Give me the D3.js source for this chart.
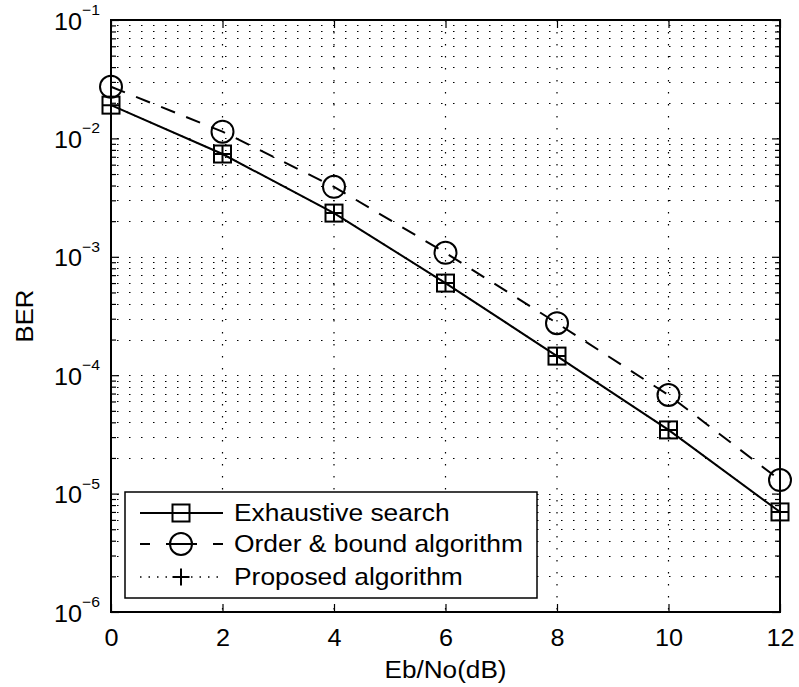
<!DOCTYPE html>
<html>
<head>
<meta charset="utf-8">
<script src="https://cdn.jsdelivr.net/npm/d3@7"></script>
<style>
  body { margin: 0; background: #fff; }
  text { font-family: "Liberation Sans", Arial, Helvetica, sans-serif; fill: #000; }
</style>
</head>
<body>
<svg id="chart" width="799" height="687"></svg>
<script>
// data ------------------------------------------------------------
var snr = [0, 2, 4, 6, 8, 10, 12];
var berExhaustive = [0.0191, 0.00738, 0.00234, 0.00060, 0.000145, 0.0000345, 0.0000070];
var berOrderBound = [0.0273, 0.0114, 0.0039, 0.00108, 0.000275, 0.000068, 0.0000130];
var berProposed = [0.0191, 0.00738, 0.00234, 0.00060, 0.000145, 0.0000345, 0.0000070];
var xTicks = [0, 2, 4, 6, 8, 10, 12];
var yDecades = [-6, -5, -4, -3, -2, -1];
var seriesNames = ["Exhaustive search", "Order & bound algorithm", "Proposed algorithm"];

var svg = d3.select("#chart");
var m = { left: 111, top: 20, right: 780, bottom: 612 };

var x = d3.scaleLinear().domain([0, 12]).range([m.left, m.right]);
var y = d3.scaleLog().domain([1e-6, 1e-1]).range([m.bottom, m.top]);

// minor y values (2..9 of each decade)
var yMinor = [];
yDecades.slice(0, -1).forEach(function (d) {
  for (var k = 2; k <= 9; k++) yMinor.push(k * Math.pow(10, d));
});
var yMajor = yDecades.map(function (d) { return Math.pow(10, d); });

// text helper, matlab's helvetica is a bit wider than liberation
function txt(g, tx, ty, s, size, anchor, sx, rot) {
  return g.append("text")
    .attr("transform", "translate(" + tx + "," + ty + ")" + (rot ? " rotate(" + rot + ")" : "") + " scale(" + sx + ",1)")
    .attr("text-anchor", anchor).attr("font-size", size).text(s);
}

// grid ------------------------------------------------------------
var grid = svg.append("g").attr("stroke", "#000").attr("stroke-width", 1.2)
  .attr("stroke-dasharray", "1.5,10.5");
grid.selectAll(".gx").data(xTicks.slice(1, -1)).enter().append("line")
  .attr("x1", function (d) { return x(d); }).attr("x2", function (d) { return x(d); })
  .attr("y1", m.top).attr("y2", m.bottom);
grid.selectAll(".gy").data(yMinor.concat(yMajor.slice(1, -1))).enter().append("line")
  .attr("y1", function (d) { return Math.round(y(d)) + 0.5; })
  .attr("y2", function (d) { return Math.round(y(d)) + 0.5; })
  .attr("x1", m.left + 6).attr("x2", m.right);

// axes (ticks inside, like matlab) --------------------------------
function styleAxis(g) {
  g.select(".domain").remove();
  g.selectAll("line").attr("stroke", "#000").attr("stroke-width", 1.2);
}
svg.append("g").attr("transform", "translate(0," + m.bottom + ")")
  .call(d3.axisBottom(x).tickValues(xTicks).tickSize(-8).tickFormat(d3.format("d")))
  .call(styleAxis)
  .selectAll("text").attr("font-size", 24).attr("y", 34).attr("dy", 0)
  .attr("transform", "scale(1.05,1)")
  .style("font-family", "Liberation Sans, Arial, sans-serif");
svg.append("g").attr("transform", "translate(0," + m.top + ")")
  .call(d3.axisTop(x).tickValues(xTicks).tickSize(-8).tickFormat(""))
  .call(styleAxis);
svg.append("g").attr("transform", "translate(" + m.left + ",0)")
  .call(d3.axisLeft(y).tickValues(yMajor).tickSize(-8).tickFormat(""))
  .call(styleAxis);
svg.append("g").attr("transform", "translate(" + m.left + ",0)")
  .call(d3.axisLeft(y).tickValues(yMinor).tickSize(-5).tickFormat(""))
  .call(styleAxis);
svg.append("g").attr("transform", "translate(" + m.right + ",0)")
  .call(d3.axisRight(y).tickValues(yMajor).tickSize(-8).tickFormat(""))
  .call(styleAxis);
svg.append("g").attr("transform", "translate(" + m.right + ",0)")
  .call(d3.axisRight(y).tickValues(yMinor).tickSize(-5).tickFormat(""))
  .call(styleAxis);

// y tick labels 10^n
var yl = svg.append("g");
yDecades.forEach(function (d) {
  var ty = y(Math.pow(10, d));
  txt(yl, 82, ty + 9.5, "10", 24, "end", 1.05);
  txt(yl, 82, ty - 5, "\u2212" + (-d), 15, "start", 1.05);
});

// axis titles
txt(svg, (m.left + m.right) / 2, 678, "Eb/No(dB)", 24, "middle", 1.09);
txt(svg, 33, (m.top + m.bottom) / 2, "BER", 24, "middle", 1.07, -90);

// frame
svg.append("rect").attr("x", m.left).attr("y", m.top)
  .attr("width", m.right - m.left).attr("height", m.bottom - m.top)
  .attr("fill", "none").attr("stroke", "#000").attr("stroke-width", 2);

// series -----------------------------------------------------------
var line = d3.line().x(function (d) { return x(d[0]); }).y(function (d) { return y(d[1]); });
function pts(vals) { return snr.map(function (s, i) { return [s, vals[i]]; }); }

var plot = svg.append("g");
plot.append("path").datum(pts(berExhaustive)).attr("d", line)
  .attr("fill", "none").attr("stroke", "#000").attr("stroke-width", 2);
plot.append("path").datum(pts(berOrderBound)).attr("d", line)
  .attr("fill", "none").attr("stroke", "#000").attr("stroke-width", 2)
  .attr("stroke-dasharray", "15,12");
plot.append("path").datum(pts(berProposed)).attr("d", line)
  .attr("fill", "none").attr("stroke", "#000").attr("stroke-width", 1.5)
  .attr("stroke-dasharray", "1.5,7");

function square(g, cx, cy) {
  g.append("rect").attr("x", cx - 8.5).attr("y", cy - 8.5).attr("width", 17).attr("height", 17)
    .attr("fill", "none").attr("stroke", "#000").attr("stroke-width", 2);
}
function circle(g, cx, cy) {
  g.append("circle").attr("cx", cx).attr("cy", cy).attr("r", 11)
    .attr("fill", "none").attr("stroke", "#000").attr("stroke-width", 2);
}
function plus(g, cx, cy) {
  g.append("path").attr("d", "M" + (cx - 8.5) + "," + cy + "H" + (cx + 8.5) + "M" + cx + "," + (cy - 8.5) + "V" + (cy + 8.5))
    .attr("stroke", "#000").attr("stroke-width", 2);
}
pts(berExhaustive).forEach(function (p) { square(plot, x(p[0]), y(p[1])); });
pts(berOrderBound).forEach(function (p) { circle(plot, x(p[0]), y(p[1])); });
pts(berProposed).forEach(function (p) { plus(plot, x(p[0]), y(p[1])); });

// legend -----------------------------------------------------------
var lg = svg.append("g");
lg.append("rect").attr("x", 125).attr("y", 492).attr("width", 412).attr("height", 106)
  .attr("fill", "#fff").attr("stroke", "#000").attr("stroke-width", 1.5);
var rowsY = [513, 544, 577];
var lx1 = 140, lx2 = 223, lmid = 181;
lg.append("line").attr("x1", lx1).attr("x2", lx2).attr("y1", rowsY[0]).attr("y2", rowsY[0])
  .attr("stroke", "#000").attr("stroke-width", 2);
square(lg, lmid, rowsY[0]);
lg.append("line").attr("x1", lx1).attr("x2", lx2).attr("y1", rowsY[1]).attr("y2", rowsY[1])
  .attr("stroke", "#000").attr("stroke-width", 2).attr("stroke-dasharray", "10,16,31,16,10");
circle(lg, lmid, rowsY[1]);
lg.append("line").attr("x1", lx1).attr("x2", lx2).attr("y1", rowsY[2]).attr("y2", rowsY[2])
  .attr("stroke", "#000").attr("stroke-width", 1.5).attr("stroke-dasharray", "1.5,7");
plus(lg, lmid, rowsY[2]);
seriesNames.forEach(function (n, i) {
  txt(lg, 234, rowsY[i] + 8, n, 24, "start", 1.1);
});
</script>
</body>
</html>
